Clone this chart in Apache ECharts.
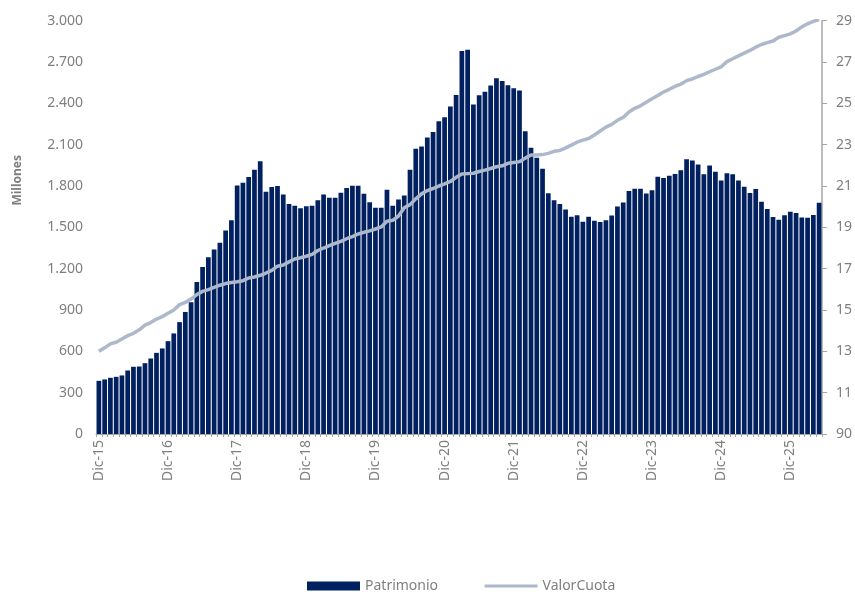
<!DOCTYPE html>
<html>
<head>
<meta charset="utf-8">
<script src="https://cdn.jsdelivr.net/npm/echarts@6/dist/echarts.min.js"></script>
<style>
html,body{margin:0;padding:0;background:#fff;}
#chart{width:855px;height:592px;}
</style>
</head>
<body>
<div id="chart"></div>
<script>
var monthNames = ['Ene','Feb','Mar','Abr','May','Jun','Jul','Ago','Sep','Oct','Nov','Dic'];
var startYear = 15, startMonth = 11, nMonths = 126;
var categories = [];
for (var i = 0; i < nMonths; i++) {
  var m = (startMonth + i) % 12;
  var y = startYear + Math.floor((startMonth + i) / 12);
  categories.push(monthNames[m] + '-' + y);
}

var patrimonio = [
  386,396,408,415,425,461,488,490,514,548,589,621,
  674,730,812,886,956,1104,1212,1283,1340,1389,1478,1551,
  1804,1824,1865,1918,1980,1759,1792,1800,1739,1669,1657,1638,
  1654,1657,1696,1739,1715,1715,1751,1785,1802,1802,1744,1683,
  1643,1643,1773,1657,1703,1732,1918,2070,2087,2152,2192,2270,
  2299,2377,2461,2780,2790,2391,2459,2485,2529,2582,2563,2531,
  2509,2493,2198,2078,2006,1926,1748,1697,1670,1630,1577,1588,
  1540,1577,1548,1538,1552,1586,1651,1680,1763,1781,1781,1746,
  1770,1867,1858,1875,1887,1914,1995,1985,1957,1886,1949,1903,
  1840,1893,1886,1840,1795,1749,1778,1686,1633,1575,1556,1587,
  1614,1604,1572,1570,1589,1679
];

var valorCuota = [
  13.00,13.17,13.36,13.44,13.60,13.76,13.87,14.04,14.27,14.39,14.56,14.68,
  14.84,15.00,15.26,15.37,15.53,15.75,15.90,15.99,16.10,16.20,16.28,16.33,
  16.37,16.42,16.55,16.60,16.68,16.79,16.92,17.12,17.18,17.33,17.47,17.53,
  17.60,17.69,17.88,18.00,18.11,18.22,18.32,18.45,18.55,18.68,18.76,18.83,
  18.92,19.02,19.30,19.34,19.55,19.95,20.10,20.38,20.62,20.78,20.88,21.00,
  21.10,21.22,21.42,21.58,21.60,21.62,21.70,21.77,21.85,21.93,21.98,22.10,
  22.14,22.18,22.35,22.50,22.50,22.52,22.58,22.68,22.72,22.85,22.98,23.12,
  23.22,23.30,23.47,23.66,23.85,23.98,24.18,24.32,24.58,24.76,24.88,25.05,
  25.22,25.38,25.55,25.68,25.82,25.93,26.10,26.18,26.30,26.40,26.53,26.65,
  26.77,27.02,27.16,27.30,27.43,27.56,27.72,27.85,27.94,28.02,28.20,28.28,
  28.36,28.50,28.70,28.85,28.97,29.05
];

var leftTicks = { min: 0, max: 3000, interval: 300 };
var rightTicks = { min: 9, max: 29, interval: 2 };

var textColor = '#7f7f7f';
var fontFam = '"Noto Sans", "Liberation Sans", sans-serif';

var chart = echarts.init(document.getElementById('chart'), null, {renderer: 'canvas'});
chart.setOption({
  animation: false,
  backgroundColor: '#ffffff',
  textStyle: { fontFamily: fontFam },
  grid: { left: 96, right: 32, top: 20.7, bottom: 158, containLabel: false },
  legend: {
    left: 302, top: 574,
    itemWidth: 53, itemHeight: 9, itemGap: 45,
    textStyle: { color: textColor, fontSize: 14, fontFamily: fontFam },
    data: [
      { name: 'Patrimonio', icon: 'rect' },
      { name: 'ValorCuota', itemStyle: { opacity: 0 }, lineStyle: { width: 3 } }
    ]
  },
  graphic: [{
    type: 'text', left: 12, top: 155, rotation: Math.PI / 2,
    style: { text: 'Millones', fill: textColor, fontSize: 12, fontWeight: 'bold', fontFamily: fontFam }
  }],
  xAxis: {
    type: 'category',
    data: categories,
    boundaryGap: true,
    axisLine: { show: true, lineStyle: { color: '#a6a6a6', width: 1 } },
    axisTick: { show: true, interval: 0, length: 3, lineStyle: { color: '#a6a6a6' } },
    axisLabel: {
      interval: function (idx) { return idx % 12 === 0; },
      rotate: 90, color: textColor, fontSize: 14, fontFamily: fontFam, margin: 6
    },
    splitLine: { show: false }
  },
  yAxis: [{
    type: 'value',
    min: leftTicks.min, max: leftTicks.max, interval: leftTicks.interval,
    axisLine: { show: false },
    axisTick: { show: false },
    splitLine: { show: false },
    axisLabel: {
      color: textColor, fontSize: 14, fontFamily: fontFam, margin: 13,
      formatter: function (v) { return String(v).replace(/\B(?=(\d{3})+(?!\d))/g, '.'); }
    }
  }, {
    type: 'value', position: 'right',
    min: rightTicks.min, max: rightTicks.max, interval: rightTicks.interval,
    axisLine: { show: true, lineStyle: { color: '#a6a6a6', width: 1.5 } },
    axisTick: { show: true, inside: false, length: 5, lineStyle: { color: '#a6a6a6' } },
    splitLine: { show: false },
    axisLabel: {
      color: textColor, fontSize: 14, fontFamily: fontFam, margin: 14,
      formatter: function (v) { return v === 9 ? '90' : String(v); }
    }
  }],
  series: [{
    name: 'Patrimonio', type: 'bar', data: patrimonio,
    yAxisIndex: 0,
    barCategoryGap: '18%',
    itemStyle: { color: '#002060' }
  }, {
    name: 'ValorCuota', type: 'line', data: valorCuota,
    yAxisIndex: 1,
    symbol: 'none', showSymbol: false,
    lineStyle: { color: '#adb9ca', width: 3.5 },
    itemStyle: { color: '#adb9ca' },
    z: 5
  }]
});
</script>
</body>
</html>
